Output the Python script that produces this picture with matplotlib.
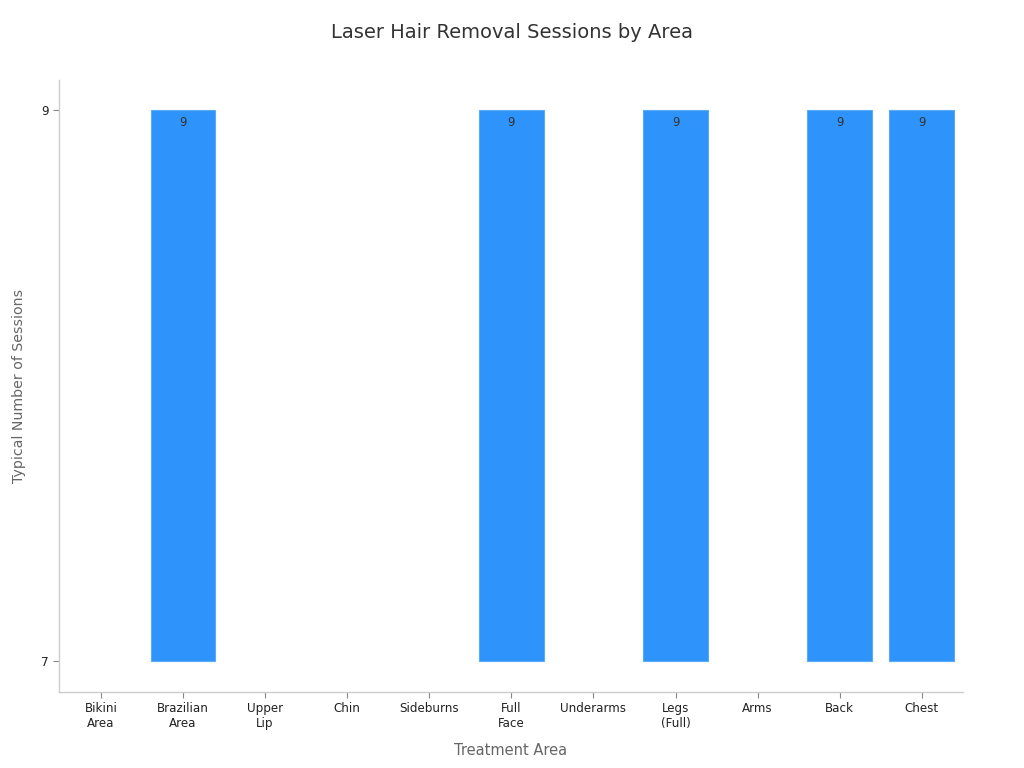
import matplotlib
matplotlib.use("Agg")
import matplotlib.pyplot as plt

categories = ["Bikini\nArea", "Brazilian\nArea", "Upper\nLip", "Chin", "Sideburns",
              "Full\nFace", "Underarms", "Legs\n(Full)", "Arms", "Back", "Chest"]
sessions = [7, 9, 7, 7, 7, 9, 7, 9, 7, 9, 9]
base = 7

fig = plt.figure(figsize=(10.24, 7.68), dpi=100)
ax = fig.add_axes([0.0576, 0.099, 0.8828, 0.7968])

x = list(range(len(categories)))
heights = [v - base for v in sessions]
bars = ax.bar(x, heights, bottom=base, width=0.79, color="#2E93FA",
              edgecolor="#5AAAF8", linewidth=0.8, zorder=2)
for b, h in zip(bars, heights):
    if h <= 0:
        b.set_visible(False)
for xi, v in zip(x, sessions):
    if v > base:
        ax.text(xi, v - 0.02, f"{v}", ha="center", va="top", fontsize=8.5, color="#333333")

ax.set_xlim(-0.51, 10.5)
ax.set_ylim(6.887, 9.109)
ax.set_yticks([7, 9])
ax.set_yticklabels(["7", "9"])
ax.set_xticks(x)
ax.set_xticklabels(categories, fontsize=8.6, color="#222222")
ax.tick_params(axis="y", labelsize=8.6, length=4, width=0.8, colors="#888888", labelcolor="#222222")
ax.tick_params(axis="x", length=4, width=0.8, colors="#888888", labelcolor="#222222")

for s in ["top", "right"]:
    ax.spines[s].set_visible(False)
for s in ["left", "bottom"]:
    ax.spines[s].set_color("#cccccc")
    ax.spines[s].set_linewidth(1)

ax.set_xlabel("Treatment Area", fontsize=10.5, color="#666666", labelpad=9)
ax.set_ylabel("Typical Number of Sessions", fontsize=10.2, color="#666666")
ax.yaxis.set_label_coords(-0.037, 0.5)
fig.suptitle("Laser Hair Removal Sessions by Area", fontsize=14, color="#333333", y=0.97)

fig.savefig("out.png", dpi=100, facecolor="white")
